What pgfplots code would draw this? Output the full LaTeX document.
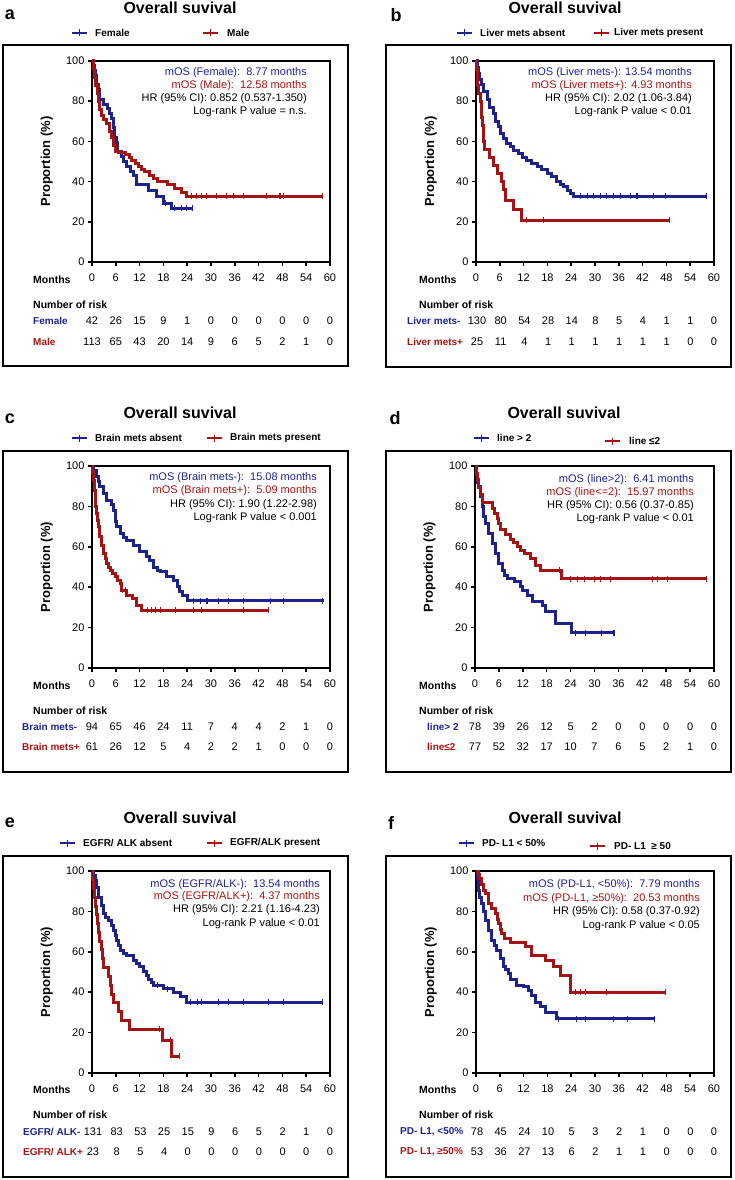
\documentclass[border=0pt]{standalone}
\usepackage{pgfplots}
\pgfplotsset{compat=1.18}
\usepackage{fontspec}
\setmainfont{Liberation Sans}
\definecolor{kb}{RGB}{30,35,140}
\definecolor{kr}{RGB}{165,20,20}
\newcommand\fT{\bfseries\fontsize{16}{18}\selectfont}
\newcommand\fL{\bfseries\fontsize{10}{12}\selectfont}
\newcommand\fN{\fontsize{11}{13}\selectfont}
\newcommand\fB{\bfseries\fontsize{10.5}{12}\selectfont}
\newcommand\fR{\bfseries\fontsize{10}{12}\selectfont}
\newcommand\fP{\bfseries\fontsize{18}{20}\selectfont}
\pgfplotsset{
 km/.style={scale only axis, width=238pt, height=201pt, anchor=south west,
  xmin=0,xmax=60,ymin=0,ymax=100, xtick={0,6,...,60}, ytick={0,20,...,100},
  xtick pos=left, ytick pos=left, tick align=outside, major tick length=4pt,
  every tick/.style={black, line width=1.5pt},
  axis line style={line width=2pt},
  tick label style={font=\fN},
  xticklabel style={yshift=-4pt},
  /pgf/number format/assume math mode=true,
  ylabel={Proportion (\%)},
  ylabel style={font=\bfseries\fontsize{13}{15}\selectfont, at={(axis description cs:-0.19,0.5)}, anchor=center},
  clip=false},
 kmb/.style={const plot, color=kb, line width=3pt, mark=none},
 kmr/.style={const plot, color=kr, line width=3pt, mark=none},
 cenb/.style={only marks, mark=|, color=kb, mark size=3pt, mark options={line width=1.1pt}},
 cenr/.style={only marks, mark=|, color=kr, mark size=3pt, mark options={line width=1.1pt}},
}
\newcommand\lkey[4]{%
 \draw[#4, line width=2.8pt] (#1,#3) -- (#2,#3);
 \draw[#4, line width=1.3pt] ({(#1+#2)/2},{#3-3.5}) -- ({(#1+#2)/2},{#3+3.5});}
\newcommand\riskrow[4]{%
 \foreach \v [count=\i from 0] in {#4} {\node[font=\fN] at ({#1+\i*#2},#3) {\v};}}
\begin{document}
\begin{tikzpicture}
\useasboundingbox (0pt,0pt) rectangle (734pt,-1180pt);
% ---------------- a
\begin{axis}[km, at={(92pt,-262pt)}]
\addplot[kmb] coordinates {(0,100)(0.3,97.6)(0.6,95.2)(0.9,92.9)(1.2,88.1)(1.6,85.7)(2.0,81)(3.0,78.6)(4.0,76.2)(4.3,73.8)(4.8,71.4)(5.3,66.7)(5.7,61.9)(6.2,59.5)(6.5,54.8)(7.5,52.4)(8.0,50)(8.8,47.6)(9.6,45.2)(10.5,42.9)(11.3,38.8)(14.2,35.8)(16.3,32.6)(18.0,29.3)(20.1,26.7)(25.4,26.7)};
\addplot[cenb] coordinates {(18.5,29.3)(20.9,26.7)(22.6,26.7)(23.9,26.7)(25.4,26.7)};
\addplot[kmr] coordinates {(0,100)(0.3,96)(0.6,92)(1.0,88)(1.3,84)(1.6,80)(2.0,76)(2.5,73)(3.0,71)(3.7,69)(4.5,65)(5.0,62)(5.5,58)(6.0,55)(6.6,54.4)(8.5,53.5)(9.4,52)(10,50.5)(11,49)(11.7,47.6)(12.5,46.2)(13.3,44.8)(14.6,43)(15.5,41.5)(16.6,40)(19.1,38.5)(20.7,36.8)(22.5,34.5)(23.7,32.8)(58.0,32.8)};
\addplot[cenr] coordinates {(25.1,32.8)(26.4,32.8)(27.6,32.8)(28.9,32.8)(31.4,32.8)(34.0,32.8)(35.6,32.8)(38.2,32.8)(44.0,32.8)(47.4,32.8)(48.2,32.8)(58.0,32.8)};
\end{axis}
% ---------------- b
\begin{axis}[km, at={(476pt,-262pt)}]
\addplot[kmb] coordinates {(0,100)(0.3,97)(0.6,94)(1.0,91)(1.5,88.5)(2.0,85)(2.8,80.6)(3.5,77)(4.4,74)(5.0,70)(5.7,67.3)(6.3,64)(6.9,61.5)(7.6,59)(8.6,57.4)(9.5,55.5)(10.7,54)(11.7,52)(12.8,50.7)(14,49)(15.4,47.4)(16.6,45.8)(17.9,44.1)(19,42.5)(20.4,40)(21.3,38.8)(22.1,37.5)(23,35.8)(23.8,34.2)(24.6,32.8)(58.2,32.8)};
\addplot[cenb] coordinates {(26.3,32.8)(28.0,32.8)(29.7,32.8)(31.3,32.8)(33.0,32.8)(34.7,32.8)(36.4,32.8)(38.9,32.8)(40.6,32.8)(44.8,32.8)(47.7,32.8)(58.2,32.8)};
\addplot[kmr] coordinates {(0,100)(0.15,96)(0.3,92)(0.45,88)(0.6,84)(1.2,80)(1.35,76)(1.5,72)(1.65,68)(1.85,64)(2.0,60)(2.1,56)(3.4,52)(4.4,48)(5.4,44)(6.5,40)(7.0,36)(7.4,30.8)(9.5,25.9)(11.4,20.8)(48.8,20.8)};
\addplot[cenr] coordinates {(12.7,20.8)(17.1,20.8)(48.8,20.8)};
\end{axis}
% ---------------- c
\begin{axis}[km, height=202pt, at={(92pt,-668pt)}]
\addplot[kmb] coordinates {(0,100)(0.5,97.9)(1.2,94.7)(1.6,92.5)(2.0,89.7)(2.9,86.5)(3.7,83.1)(5.0,80.7)(5.5,78)(5.8,75.7)(6.0,72.5)(6.3,69.9)(7.1,66.6)(8.0,64.5)(8.8,63.3)(10.5,60.8)(12.1,57.5)(13.8,55)(14.5,53)(15.5,50)(16.5,48.5)(17.2,47.6)(18.8,45.1)(20.5,43.5)(21.5,40.2)(22.0,37.7)(22.8,36)(24.1,33.2)(58.4,33.2)};
\addplot[cenb] coordinates {(25.6,33.2)(27.3,33.2)(29.0,33.2)(31.9,33.2)(34.4,33.2)(38.2,33.2)(44.9,33.2)(48.3,33.2)(58.2,33.2)};
\addplot[kmr] coordinates {(0,100)(0.2,96.7)(0.4,93)(0.6,88)(0.8,83)(1.0,80)(1.2,76.5)(1.4,73)(1.6,69.9)(2.0,65)(2.4,60.7)(2.9,56.7)(3.3,54)(3.7,51.8)(4.2,50)(4.6,48.4)(5.2,46.7)(5.8,45.1)(6.5,43.5)(7.1,42)(7.5,38.5)(8.8,36)(10.1,34.4)(11.3,31.1)(12.6,28.6)(44.5,28.6)};
\addplot[cenr] coordinates {(7.8,38.5)(8.5,38.5)(13.9,28.6)(15.1,28.6)(16.0,28.6)(17.2,28.6)(21.0,28.6)(25.6,28.6)(27.7,28.6)(38.2,28.6)(44.5,28.6)};
\end{axis}
% ---------------- d
\begin{axis}[km, width=239pt, height=202pt, at={(475pt,-668pt)}]
\addplot[kmb] coordinates {(0,100)(0.3,96)(0.6,92)(0.9,89.7)(1.3,85)(1.8,79.8)(2.2,75)(2.7,71.6)(3.5,66.6)(4.4,61.7)(5.2,56.7)(6.0,51.8)(6.9,48.4)(7.5,46)(8.1,44.3)(9.8,42.6)(11.5,40.2)(11.8,38.5)(13.2,36)(14.4,32.7)(17.0,31.1)(17.8,27.8)(20.3,22)(24.1,17.5)(34.9,17.5)};
\addplot[cenb] coordinates {(25.3,17.5)(27.8,17.5)(31.7,17.5)(34.9,17.5)};
\addplot[kmr] coordinates {(0,100)(0.3,96.1)(0.6,93.5)(1.0,89.6)(1.4,85.7)(1.8,81.8)(4.4,79.2)(5.0,76.6)(5.6,74)(6.0,71.4)(6.4,68.8)(7.7,66.2)(9.0,63.6)(9.6,62)(10.6,60)(11.5,58)(12.3,56.7)(14.0,54.2)(15.2,50.9)(16.5,48.4)(21.8,44.3)(58.3,44.3)};
\addplot[cenr] coordinates {(21.1,48.4)(24.0,44.3)(25.7,44.3)(27.4,44.3)(29.9,44.3)(31.6,44.3)(34.1,44.3)(44.5,44.3)(45.8,44.3)(48.3,44.3)(58.1,44.3)};
\end{axis}
% ---------------- e
\begin{axis}[km, height=202pt, at={(92pt,-1073pt)}]
\addplot[kmb] coordinates {(0,100)(0.4,98)(0.8,95.4)(1.2,92)(1.7,87.1)(2.3,83)(2.9,78.9)(3.5,77)(4.2,75.6)(4.8,73)(5.5,70.6)(6.0,68)(6.3,65.7)(6.7,63)(7.1,60.7)(8.0,59.4)(8.8,58.2)(10.5,55.8)(11.3,54)(12.1,52.5)(13,50.5)(13.8,48.4)(14.3,46.2)(15.0,45)(15.5,43.4)(18.0,41.8)(20.5,40.1)(22.2,38)(23.8,35.1)(58.2,35.1)};
\addplot[cenb] coordinates {(16.5,43.4)(19,41.8)(24.8,35.1)(26.5,35.1)(27.7,35.1)(31.9,35.1)(34.4,35.1)(38.2,35.1)(44.5,35.1)(48.3,35.1)(58.2,35.1)};
\addplot[kmr] coordinates {(0,100)(0.2,95.7)(0.4,91.3)(0.6,87)(1.0,82.6)(1.2,78.3)(1.5,73.9)(1.7,69.6)(2.0,65.2)(2.5,60.9)(2.7,56.5)(2.9,52.2)(4.1,47.8)(4.6,43.5)(4.9,39.1)(5.3,34.8)(6.6,30.4)(7.4,26.1)(9.5,21.7)(17.7,16.3)(20.1,8.2)(22.1,8.2)};
\addplot[cenr] coordinates {(17.1,21.7)(19.8,16.3)(22.1,8.2)};
\end{axis}
% ---------------- f
\begin{axis}[km, height=202pt, at={(476pt,-1073pt)}]
\addplot[kmb] coordinates {(0,100)(0.3,96)(0.6,90.4)(1.0,87)(1.5,83.9)(1.9,80)(2.3,75.6)(3.1,70.6)(4.0,65.7)(4.6,63)(5.2,60.7)(6.1,56.6)(6.9,52.5)(7.5,51)(8.2,49.2)(8.6,46.2)(10.3,43.4)(12.0,42.6)(13.2,40.9)(14.1,38.5)(14.9,35.1)(16.2,32.7)(17.5,30.2)(20.4,26.9)(45,26.9)};
\addplot[cenb] coordinates {(20.8,26.9)(25.3,26.9)(27.5,26.9)(34.7,26.9)(38.1,26.9)(45,26.9)};
\addplot[kmr] coordinates {(0,100)(0.6,98.1)(1.0,96.2)(1.5,93.4)(2.0,90.5)(2.3,88.8)(3.1,83.9)(4.0,81.4)(4.8,78.9)(5.3,76)(5.7,73.9)(6.2,71)(6.5,69)(7.3,66.5)(8.6,64.5)(12.5,62.5)(14.1,58.2)(17.5,55.8)(19.6,52.5)(21.3,48.4)(23.8,40.1)(47.8,40.1)};
\addplot[cenr] coordinates {(25.0,40.1)(26.3,40.1)(27.5,40.1)(32.9,40.1)(47.8,40.1)};
\end{axis}
% ================= text, boxes, legends
\begin{scope}[x=1pt,y=-1pt, every node/.style={inner sep=0pt}]
\foreach \x/\y/\X/\Y in {3/45/348/366, 386/45/731/367, 3/451/348/772, 386/451/731/772, 3/856/348/1177, 386/856/731/1177}
  \draw[line width=2pt] (\x,\y) rectangle (\X,\Y);
% letters and titles
\node[font=\fP] at (10,15) {a};
\node[font=\fP] at (396,15) {b};
\node[font=\fP] at (10,419) {c};
\node[font=\fP] at (395,418) {d};
\node[font=\fP] at (10,823) {e};
\node[font=\fP] at (391,823) {f};
\foreach \x/\y in {180/8, 565/8, 180/413, 564/413, 180/818, 565/818}
  \node[font=\fT] at (\x,\y) {Overall suvival};
% legends
\lkey{72}{87}{33}{kb} \node[font=\fL,anchor=west] at (95,33) {Female};
\lkey{203}{218}{33}{kr} \node[font=\fL,anchor=west] at (227,33) {Male};
\lkey{457}{472}{33}{kb} \node[font=\fL,anchor=west] at (480,33) {Liver mets absent};
\lkey{594}{609}{33}{kr} \node[font=\fL,anchor=west] at (614,33) {Liver mets present};
\lkey{72}{87}{438}{kb} \node[font=\fL,anchor=west] at (95,438) {Brain mets absent};
\lkey{207}{222}{438}{kr} \node[font=\fL,anchor=west] at (230,438) {Brain mets present};
\lkey{474}{489}{438}{kb} \node[font=\fL,anchor=west] at (497,438) {line > 2};
\lkey{605}{620}{441}{kr} \node[font=\fL,anchor=west] at (629,441) {line ≤2};
\lkey{60}{75}{843}{kb} \node[font=\fL,anchor=west] at (83,843) {EGFR/ ALK absent};
\lkey{207}{222}{843}{kr} \node[font=\fL,anchor=west] at (230,843) {EGFR/ALK present};
\lkey{459}{474}{843}{kb} \node[font=\fL,anchor=west] at (482,843) {PD- L1 <  50\%};
\lkey{590}{605}{846}{kr} \node[font=\fL,anchor=west] at (614,846) {PD- L1 \ ≥ 50};
% annotations (baselines = centre + 4)
\node[font=\fN,anchor=base east,text=kb] at (307,76) {mOS (Female):\ \ 8.77 months};
\node[font=\fN,anchor=base east,text=kr] at (307,89) {mOS (Male):\ \ 12.58 months};
\node[font=\fN,anchor=base east] at (307,102) {HR (95\% CI): 0.852 (0.537-1.350)};
\node[font=\fN,anchor=base east] at (307,115) {Log-rank P value = n.s.};
\node[font=\fN,anchor=base east,text=kb] at (692,76) {mOS (Liver mets-): 13.54 months};
\node[font=\fN,anchor=base east,text=kr] at (692,89) {mOS (Liver mets+): 4.93 months};
\node[font=\fN,anchor=base east] at (692,102) {HR (95\% CI): 2.02 (1.06-3.84)};
\node[font=\fN,anchor=base east] at (692,115) {Log-rank P value < 0.01};
\node[font=\fN,anchor=base east,text=kb] at (317,480) {mOS (Brain mets-):\ \ 15.08 months};
\node[font=\fN,anchor=base east,text=kr] at (317,493) {mOS (Brain mets+):\ \ 5.09 months};
\node[font=\fN,anchor=base east] at (317,507) {HR (95\% CI): 1.90 (1.22-2.98)};
\node[font=\fN,anchor=base east] at (317,520) {Log-rank P value < 0.001};
\node[font=\fN,anchor=base east,text=kb] at (694,482) {mOS (line>2):\ \ 6.41 months};
\node[font=\fN,anchor=base east,text=kr] at (694,495) {mOS (line<=2):\ \ 15.97 months};
\node[font=\fN,anchor=base east] at (694,508) {HR (95\% CI): 0.56 (0.37-0.85)};
\node[font=\fN,anchor=base east] at (694,521) {Log-rank P value < 0.01};
\node[font=\fN,anchor=base east,text=kb] at (320,887) {mOS (EGFR/ALK-):\ \ 13.54 months};
\node[font=\fN,anchor=base east,text=kr] at (320,899) {mOS (EGFR/ALK+):\ \ 4.37 months};
\node[font=\fN,anchor=base east] at (320,912) {HR (95\% CI): 2.21 (1.16-4.23)};
\node[font=\fN,anchor=base east] at (320,926) {Log-rank P value < 0.01};
\node[font=\fN,anchor=base east,text=kb] at (700,887) {mOS (PD-L1, <50\%):\ \ 7.79 months};
\node[font=\fN,anchor=base east,text=kr] at (700,901) {mOS (PD-L1, ≥50\%):\ \ 20.53 months};
\node[font=\fN,anchor=base east] at (700,914) {HR (95\% CI): 0.58 (0.37-0.92)};
\node[font=\fN,anchor=base east] at (700,928) {Log-rank P value < 0.05};
% risk tables
\foreach \x/\y in {33/0, 419/0, 33/406, 419/406, 33/810, 419/810} {
  \node[font=\fB,anchor=west] at (\x,280+\y) {Months};
  \node[font=\fB,anchor=west] at (\x,305+\y) {Number of risk};
}
\node[font=\fR,anchor=west,text=kb] at (33,321) {Female};
\node[font=\fR,anchor=west,text=kr] at (33,342) {Male};
\riskrow{92}{23.8}{321}{42,26,15,9,1,0,0,0,0,0,0}
\riskrow{92}{23.8}{342}{113,65,43,20,14,9,6,5,2,1,0}
\node[font=\fR,anchor=west,text=kb] at (407,321) {Liver mets-};
\node[font=\fR,anchor=west,text=kr] at (407,342) {Liver mets+};
\riskrow{477}{23.7}{321}{130,80,54,28,14,8,5,4,1,1,0}
\riskrow{477}{23.7}{342}{25,11,4,1,1,1,1,1,1,0,0}
\node[font=\fR,anchor=west,text=kb] at (22,727) {Brain mets-};
\node[font=\fR,anchor=west,text=kr] at (22,747) {Brain mets+};
\riskrow{92}{23.8}{727}{94,65,46,24,11,7,4,4,2,1,0}
\riskrow{92}{23.8}{747}{61,26,12,5,4,2,2,1,0,0,0}
\node[font=\fR,anchor=west,text=kb] at (427,727) {line> 2};
\node[font=\fR,anchor=west,text=kr] at (427,747) {line≤2};
\riskrow{475}{23.9}{727}{78,39,26,12,5,2,0,0,0,0,0}
\riskrow{475}{23.9}{747}{77,52,32,17,10,7,6,5,2,1,0}
\node[font=\fR,anchor=west,text=kb] at (23,1132) {EGFR/ ALK-};
\node[font=\fR,anchor=west,text=kr] at (23,1152) {EGFR/ ALK+};
\riskrow{93}{23.7}{1132}{131,83,53,25,15,9,6,5,2,1,0}
\riskrow{93}{23.7}{1152}{23,8,5,4,0,0,0,0,0,0,0}
\node[font=\fR,anchor=west,text=kb] at (400,1132) {PD- L1, <50\%};
\node[font=\fR,anchor=west,text=kr] at (400,1152) {PD- L1, ≥50\%};
\riskrow{477}{23.7}{1132}{78,45,24,10,5,3,2,1,0,0,0}
\riskrow{477}{23.7}{1152}{53,36,27,13,6,2,1,1,0,0,0}
\end{scope}
\end{tikzpicture}
\end{document}
